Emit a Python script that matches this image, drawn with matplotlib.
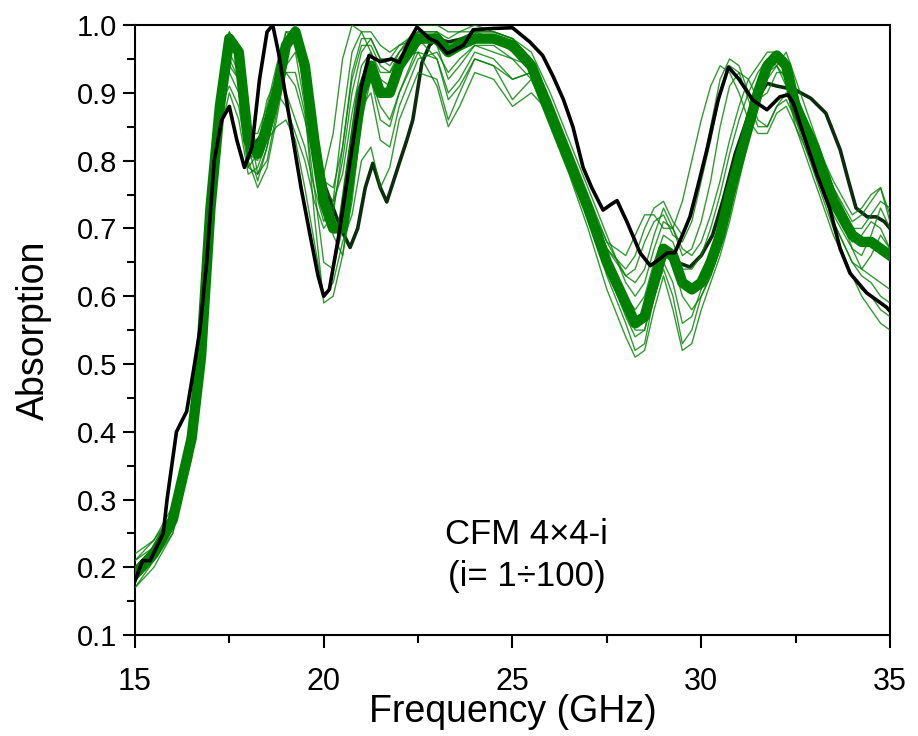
import matplotlib
matplotlib.use("Agg")
import matplotlib.pyplot as plt
from matplotlib.ticker import MultipleLocator, FormatStrFormatter

# shared frequency grid for the green (CFM 4x4-i) family, GHz
FREQ = [15.0, 15.5, 16.0, 16.5, 16.75, 17.0, 17.25, 17.5, 17.75, 18.0,
        18.25, 18.5, 18.75, 19.0, 19.25, 19.5, 19.75, 20.0, 20.25, 20.5,
        20.75, 21.0, 21.25, 21.5, 21.75, 22.0, 22.5, 23.0, 23.3, 23.6,
        24.0, 24.5, 25.0, 25.5, 26.0, 26.5, 27.0, 27.5, 28.0, 28.25,
        28.5, 28.75, 29.0, 29.25, 29.5, 29.75, 30.0, 30.25, 30.5, 30.75,
        31.0, 31.25, 31.5, 31.75, 32.0, 32.25, 32.5, 33.0, 33.5, 34.0,
        34.25, 34.5, 34.75, 35.0]

# dense bundle centre
GREEN_CORE = [0.19, 0.22, 0.27, 0.39, 0.51, 0.73, 0.88, 0.98, 0.96, 0.83,
              0.81, 0.85, 0.90, 0.97, 0.99, 0.94, 0.83, 0.74, 0.70, 0.70,
              0.80, 0.90, 0.94, 0.90, 0.90, 0.94, 0.98, 0.98, 0.96, 0.97,
              0.98, 0.98, 0.97, 0.94, 0.87, 0.80, 0.73, 0.65, 0.59, 0.56,
              0.57, 0.62, 0.67, 0.66, 0.62, 0.61, 0.62, 0.65, 0.69, 0.75,
              0.80, 0.85, 0.90, 0.94, 0.955, 0.94, 0.88, 0.82, 0.74, 0.69,
              0.68, 0.68, 0.67, 0.66]

# individual spread members
GREEN_UPPER = [0.22, 0.24, 0.29, 0.42, 0.55, 0.78, 0.92, 0.99, 0.94, 0.84,
               0.84, 0.88, 0.94, 0.99, 0.98, 0.90, 0.82, 0.77, 0.76, 0.82,
               0.92, 0.97, 0.97, 0.94, 0.93, 0.96, 0.99, 0.99, 0.98, 0.99,
               0.99, 0.99, 0.98, 0.95, 0.89, 0.82, 0.75, 0.68, 0.63, 0.62,
               0.64, 0.69, 0.73, 0.70, 0.66, 0.67, 0.71, 0.77, 0.85, 0.91,
               0.93, 0.92, 0.89, 0.90, 0.93, 0.93, 0.89, 0.83, 0.76, 0.71,
               0.72, 0.74, 0.76, 0.72]

GREEN_LOWER = [0.17, 0.21, 0.25, 0.36, 0.47, 0.68, 0.84, 0.90, 0.86, 0.78,
               0.79, 0.83, 0.85, 0.86, 0.83, 0.76, 0.68, 0.60, 0.62, 0.68,
               0.72, 0.80, 0.82, 0.76, 0.79, 0.86, 0.93, 0.92, 0.86, 0.90,
               0.95, 0.94, 0.89, 0.92, 0.86, 0.79, 0.72, 0.63, 0.56, 0.52,
               0.53, 0.60, 0.64, 0.60, 0.53, 0.55, 0.60, 0.63, 0.67, 0.72,
               0.78, 0.84, 0.89, 0.93, 0.95, 0.93, 0.86, 0.78, 0.70, 0.63,
               0.60, 0.58, 0.56, 0.55]

GREEN_EARLY = [0.20, 0.23, 0.28, 0.40, 0.53, 0.76, 0.89, 0.93, 0.90, 0.80,
               0.82, 0.89, 0.92, 0.90, 0.86, 0.82, 0.76, 0.71, 0.74, 0.86,
               0.96, 0.99, 0.99, 0.97, 0.96, 0.97, 0.99, 0.97, 0.92, 0.94,
               0.97, 0.96, 0.95, 0.94, 0.88, 0.81, 0.74, 0.67, 0.64, 0.66,
               0.70, 0.73, 0.74, 0.71, 0.69, 0.72, 0.78, 0.85, 0.92, 0.95,
               0.94, 0.90, 0.86, 0.85, 0.88, 0.89, 0.86, 0.80, 0.72, 0.67,
               0.66, 0.69, 0.73, 0.70]

GREEN_LATE = [0.18, 0.22, 0.26, 0.38, 0.50, 0.71, 0.87, 0.97, 0.97, 0.86,
              0.78, 0.80, 0.87, 0.96, 0.99, 0.96, 0.87, 0.77, 0.69, 0.66,
              0.74, 0.86, 0.92, 0.86, 0.85, 0.90, 0.97, 0.99, 0.97, 0.98,
              0.99, 0.98, 0.96, 0.93, 0.86, 0.79, 0.72, 0.64, 0.58, 0.55,
              0.55, 0.60, 0.66, 0.65, 0.60, 0.58, 0.60, 0.63, 0.67, 0.72,
              0.78, 0.84, 0.90, 0.94, 0.96, 0.95, 0.90, 0.83, 0.75, 0.67,
              0.64, 0.63, 0.62, 0.61]

GREEN_FAST = [0.21, 0.24, 0.28, 0.41, 0.54, 0.77, 0.90, 0.95, 0.92, 0.81,
              0.80, 0.86, 0.91, 0.93, 0.91, 0.86, 0.80, 0.78, 0.84, 0.95,
              1.00, 0.99, 0.96, 0.93, 0.93, 0.95, 0.96, 0.91, 0.85, 0.88,
              0.93, 0.92, 0.88, 0.90, 0.87, 0.81, 0.74, 0.68, 0.66, 0.69,
              0.72, 0.72, 0.70, 0.70, 0.74, 0.80, 0.86, 0.91, 0.94, 0.93,
              0.90, 0.86, 0.84, 0.84, 0.87, 0.88, 0.85, 0.77, 0.69, 0.63,
              0.61, 0.60, 0.58, 0.57]

GREEN_DEEP = [0.17, 0.20, 0.25, 0.37, 0.49, 0.70, 0.86, 0.96, 0.93, 0.80,
              0.76, 0.79, 0.86, 0.94, 0.96, 0.88, 0.72, 0.59, 0.60, 0.66,
              0.76, 0.88, 0.90, 0.83, 0.82, 0.88, 0.95, 0.96, 0.93, 0.95,
              0.97, 0.97, 0.95, 0.92, 0.85, 0.78, 0.70, 0.61, 0.54, 0.51,
              0.52, 0.58, 0.63, 0.58, 0.52, 0.53, 0.58, 0.62, 0.66, 0.71,
              0.77, 0.83, 0.88, 0.92, 0.94, 0.96, 0.92, 0.84, 0.76, 0.70,
              0.70, 0.72, 0.74, 0.73]

GREEN_MID = [0.20, 0.23, 0.27, 0.40, 0.52, 0.74, 0.90, 0.99, 0.95, 0.82,
             0.77, 0.82, 0.89, 0.98, 1.00, 0.95, 0.85, 0.76, 0.74, 0.78,
             0.87, 0.94, 0.96, 0.92, 0.91, 0.95, 0.99, 0.99, 0.96, 0.98,
             0.99, 0.99, 0.98, 0.95, 0.88, 0.81, 0.74, 0.66, 0.60, 0.58,
             0.60, 0.65, 0.69, 0.68, 0.64, 0.64, 0.66, 0.70, 0.75, 0.81,
             0.86, 0.90, 0.93, 0.95, 0.94, 0.92, 0.87, 0.81, 0.73, 0.68,
             0.69, 0.71, 0.70, 0.67]

GREEN_HIGH2 = [0.21, 0.23, 0.28, 0.41, 0.53, 0.75, 0.90, 0.98, 0.97, 0.86,
               0.82, 0.86, 0.92, 0.99, 0.99, 0.92, 0.81, 0.73, 0.73, 0.80,
               0.90, 0.96, 0.98, 0.95, 0.94, 0.96, 1.00, 1.00, 0.99, 0.99,
               1.00, 0.99, 0.98, 0.96, 0.90, 0.83, 0.76, 0.69, 0.62, 0.60,
               0.62, 0.67, 0.71, 0.70, 0.67, 0.66, 0.68, 0.72, 0.77, 0.83,
               0.88, 0.92, 0.94, 0.96, 0.96, 0.93, 0.88, 0.83, 0.77, 0.72,
               0.73, 0.75, 0.76, 0.71]

GREEN_LOW2 = [0.18, 0.21, 0.26, 0.37, 0.48, 0.69, 0.85, 0.94, 0.92, 0.79,
              0.78, 0.82, 0.88, 0.93, 0.93, 0.87, 0.76, 0.65, 0.64, 0.70,
              0.80, 0.89, 0.92, 0.88, 0.86, 0.90, 0.96, 0.95, 0.90, 0.92,
              0.96, 0.95, 0.92, 0.93, 0.87, 0.80, 0.72, 0.64, 0.57, 0.54,
              0.55, 0.61, 0.65, 0.62, 0.56, 0.57, 0.61, 0.65, 0.69, 0.74,
              0.80, 0.86, 0.90, 0.93, 0.94, 0.91, 0.85, 0.79, 0.71, 0.65,
              0.63, 0.62, 0.60, 0.59]

GREEN_EARLY2 = [0.20, 0.23, 0.27, 0.39, 0.52, 0.75, 0.88, 0.91, 0.88, 0.79,
                0.81, 0.87, 0.90, 0.88, 0.84, 0.80, 0.74, 0.70, 0.72, 0.82,
                0.93, 0.98, 0.98, 0.95, 0.95, 0.97, 0.98, 0.95, 0.89, 0.91,
                0.95, 0.94, 0.92, 0.93, 0.88, 0.81, 0.74, 0.67, 0.63, 0.64,
                0.68, 0.71, 0.72, 0.69, 0.68, 0.71, 0.77, 0.83, 0.90, 0.94,
                0.93, 0.89, 0.85, 0.85, 0.88, 0.90, 0.87, 0.79, 0.71, 0.65,
                0.64, 0.66, 0.69, 0.67]

# reference structure (black)
FREQ_REF = [15.0, 15.2, 15.4, 15.75, 15.85, 16.1, 16.37, 16.55, 16.72, 16.9,
            17.1, 17.3, 17.5, 17.7, 17.9, 18.1, 18.3, 18.5, 18.65, 18.8,
            19.1, 19.4, 19.64, 19.85, 20.0, 20.15, 20.4, 20.7, 21.0, 21.2,
            21.5, 21.8, 22.0, 22.25, 22.47, 22.8, 23.0, 23.27, 23.7, 23.96,
            24.5, 25.0, 25.46, 25.8, 26.07, 26.35, 26.6, 26.87, 27.1, 27.4,
            27.6, 27.77, 28.03, 28.38, 28.65, 28.9, 29.1, 29.3, 29.5, 29.7,
            29.9, 30.15, 30.45, 30.72, 31.0, 31.37, 31.74, 32.08, 32.3, 32.44,
            32.7, 33.06, 33.4, 33.68, 33.94, 34.38, 34.9, 35.0]
ABS_REF = [0.18, 0.21, 0.21, 0.25, 0.30, 0.40, 0.43, 0.49, 0.55, 0.65,
           0.80, 0.86, 0.88, 0.83, 0.79, 0.82, 0.92, 0.99, 1.0, 0.96,
           0.86, 0.76, 0.69, 0.63, 0.60, 0.61, 0.69, 0.80, 0.91, 0.955,
           0.946, 0.95, 0.945, 0.975, 0.997, 0.98, 0.975, 0.958, 0.97, 0.993,
           0.995, 0.996, 0.975, 0.955, 0.925, 0.89, 0.85, 0.79, 0.76, 0.727,
           0.735, 0.741, 0.71, 0.664, 0.645, 0.655, 0.664, 0.664, 0.69, 0.717,
           0.76, 0.816, 0.89, 0.938, 0.92, 0.889, 0.875, 0.894, 0.897, 0.885,
           0.84, 0.78, 0.73, 0.67, 0.634, 0.605, 0.584, 0.578]

# second dark trace
FREQ_REF2 = [15.0, 15.5, 16.0, 16.5, 16.75, 17.0, 17.25, 17.55, 17.8, 18.1,
             18.4, 18.75, 19.0, 19.2, 19.5, 19.8, 20.05, 20.17, 20.45, 20.7,
             20.9, 21.1, 21.3, 21.5, 21.67, 21.85, 22.0, 22.2, 22.36, 22.6,
             22.8, 23.0, 23.3, 23.7, 24.0, 24.5, 25.0, 25.5, 26.0, 26.5,
             27.0, 27.5, 28.0, 28.3, 28.6, 28.9, 29.1, 29.35, 29.7, 30.0,
             30.3, 30.58, 30.9, 31.3, 31.74, 32.0, 32.27, 32.5, 32.9, 33.3,
             33.68, 33.9, 34.1, 34.4, 34.64, 34.85, 35.0]
ABS_REF2 = [0.19, 0.22, 0.27, 0.39, 0.51, 0.73, 0.88, 0.98, 0.95, 0.82,
            0.84, 0.90, 0.97, 0.99, 0.93, 0.82, 0.76, 0.742, 0.70, 0.672,
            0.70, 0.76, 0.796, 0.76, 0.739, 0.77, 0.796, 0.83, 0.86, 0.944,
            0.97, 0.98, 0.975, 0.98, 0.985, 0.98, 0.975, 0.94, 0.87, 0.79,
            0.72, 0.64, 0.58, 0.56, 0.59, 0.64, 0.665, 0.65, 0.643, 0.66,
            0.69, 0.742, 0.81, 0.875, 0.914, 0.91, 0.907, 0.904, 0.892, 0.87,
            0.816, 0.77, 0.73, 0.717, 0.717, 0.71, 0.70]

GREEN = "#008000"

plt.rcParams["font.family"] = ["Liberation Sans", "DejaVu Sans"]

fig = plt.figure(figsize=(9.18, 7.36), dpi=100)
ax = fig.add_axes([0.147, 0.137, 0.8225, 0.829])

ax.plot(FREQ_REF2, ABS_REF2, color="#0d2b0d", lw=2.6, zorder=2)
members = (GREEN_UPPER, GREEN_LOWER, GREEN_EARLY, GREEN_LATE, GREEN_FAST,
           GREEN_DEEP, GREEN_MID, GREEN_HIGH2, GREEN_LOW2, GREEN_EARLY2)
for vals in members:
    ax.plot(FREQ, vals, color=GREEN, lw=1.0, alpha=0.8, zorder=3)
ax.plot(FREQ, GREEN_CORE, color=GREEN, lw=7.5, zorder=4)
ax.plot(FREQ_REF, ABS_REF, color="black", lw=2.6, zorder=5)

ax.set_xlim(15, 35)
ax.set_ylim(0.1, 1.0)
ax.xaxis.set_major_locator(MultipleLocator(5))
ax.xaxis.set_minor_locator(MultipleLocator(2.5))
ax.yaxis.set_major_locator(MultipleLocator(0.1))
ax.yaxis.set_minor_locator(MultipleLocator(0.05))
ax.yaxis.set_major_formatter(FormatStrFormatter("%.1f"))
ax.tick_params(which="both", direction="out", top=False, right=False, width=1.5)
ax.tick_params(which="major", length=9)
ax.tick_params(which="minor", length=5.5)
ax.tick_params(axis="y", labelsize=21, pad=4)
ax.tick_params(axis="x", labelsize=22, pad=14)
for sp in ax.spines.values():
    sp.set_linewidth(1.5)

ax.set_xlabel("Frequency (GHz)", fontsize=27, labelpad=-2)
ax.set_ylabel("Absorption", fontsize=27, labelpad=18)

ax.text(25.38, 0.217, "CFM 4\u00d74-i\n(i= 1\u00f7100)", fontsize=25,
        ha="center", va="center", linespacing=1.35)

fig.savefig("out.png", dpi=100)
